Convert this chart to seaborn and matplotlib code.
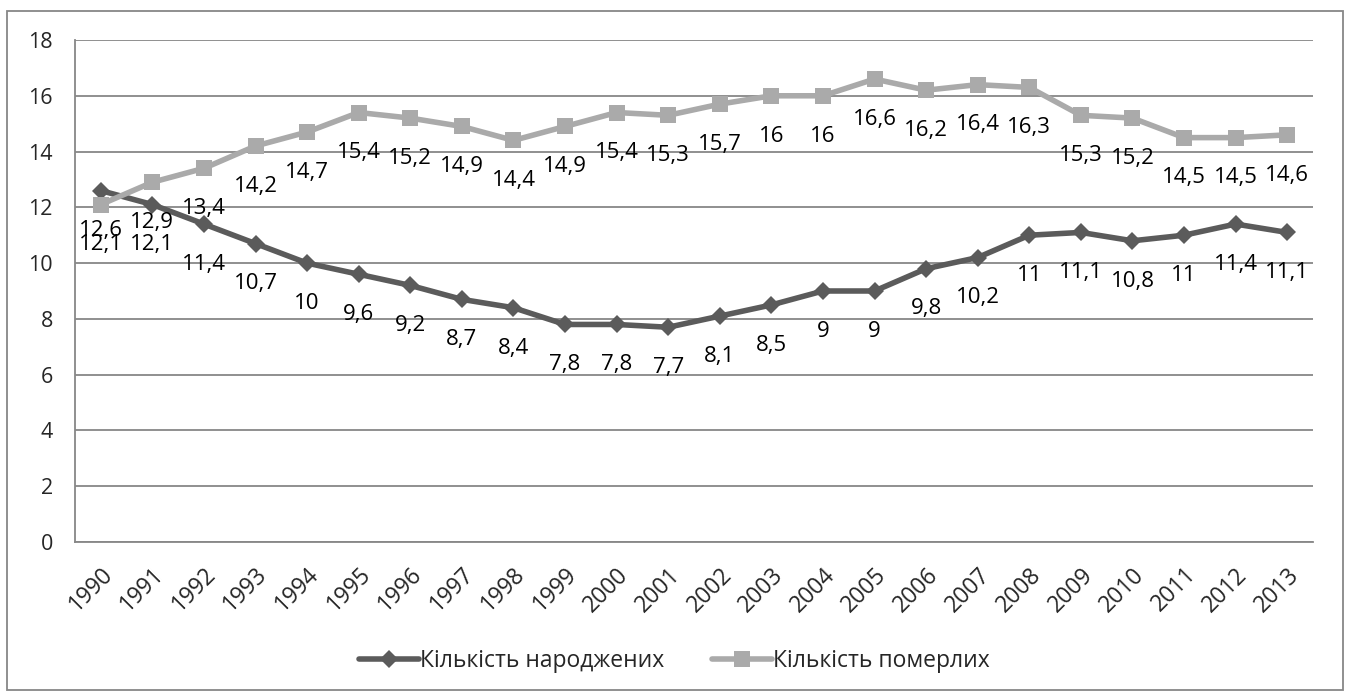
import pandas as pd
import matplotlib.pyplot as plt
import seaborn as sns
from matplotlib.patches import Rectangle

# Data
years = list(range(1990, 2014))
births = [12.6, 12.1, 11.4, 10.7, 10, 9.6, 9.2, 8.7, 8.4, 7.8, 7.8, 7.7,
          8.1, 8.5, 9, 9, 9.8, 10.2, 11, 11.1, 10.8, 11, 11.4, 11.1]
deaths = [12.1, 12.9, 13.4, 14.2, 14.7, 15.4, 15.2, 14.9, 14.4, 14.9, 15.4, 15.3,
          15.7, 16, 16, 16.6, 16.2, 16.4, 16.3, 15.3, 15.2, 14.5, 14.5, 14.6]
series_names = ['Кількість народжених', 'Кількість померлих']

df = pd.DataFrame({
    'pos': list(range(len(years))) * 2,
    'value': births + deaths,
    'series': [series_names[0]] * len(years) + [series_names[1]] * len(years),
})

sns.set_style('white')
plt.rcParams['font.family'] = ['Open Sans', 'DejaVu Sans']

fig = plt.figure(figsize=(13.49, 6.97), dpi=100)
ax = fig.add_axes([0.0556, 0.2224, 0.9733 - 0.0556, 0.9426 - 0.2224])

palette = {series_names[0]: '#5b5b5b', series_names[1]: '#aaaaaa'}
markers = {series_names[0]: 'D', series_names[1]: 's'}
sizes = {series_names[0]: 9.5, series_names[1]: 11}

for name in series_names:
    sub = df[df['series'] == name]
    sns.lineplot(data=sub, x='pos', y='value', ax=ax, color=palette[name],
                 linewidth=4, marker=markers[name], markersize=sizes[name],
                 markeredgewidth=0, label=name, zorder=3)
    # data labels below the points
    for x, v in zip(sub['pos'], sub['value']):
        ax.annotate(f'{v:g}'.replace('.', ','), (x, v), xytext=(0, -29),
                    textcoords='offset points', ha='center', va='center',
                    fontsize=16, color='black', zorder=4)

ax.set_xlim(-0.5, len(years) - 0.5)
ax.set_ylim(0, 18)
ax.set_yticks(range(0, 19, 2))
# ticks between categories, year labels at category centres
ax.set_xticks([i - 0.5 for i in range(len(years) + 1)], minor=False)
ax.set_xticklabels([])
ax.set_xticks(range(len(years)), minor=True)
ax.set_xticklabels([str(y) for y in years], minor=True, rotation=45,
                   ha='right', rotation_mode='anchor', fontsize=16.5)
ax.tick_params(axis='x', which='minor', length=0, pad=15)
ax.tick_params(axis='x', which='major', length=6, width=1.3, color='#878787', direction='out')
ax.tick_params(axis='y', length=6, width=1.3, color='#878787', direction='out',
               labelsize=15.5, pad=10)
ax.grid(axis='y', color='#878787', linewidth=1.3)
ax.grid(axis='x', visible=False)
for s in ['top', 'right']:
    ax.spines[s].set_visible(False)
for s in ['left', 'bottom']:
    ax.spines[s].set_color('#878787')
    ax.spines[s].set_linewidth(1.3)
ax.set_xlabel('')
ax.set_ylabel('')

ax.legend(loc='center', bbox_to_anchor=(0.5, 1 - 661 / 697), bbox_transform=fig.transFigure,
          ncol=2, frameon=False, fontsize=16.5, handlelength=2.6, columnspacing=2.1,
          handletextpad=0.05)

fig.patches.append(Rectangle((7 / 1349, 1 - 690 / 697), 1336 / 1349, 679 / 697,
                             transform=fig.transFigure, fill=False,
                             edgecolor='#878787', linewidth=1.3))

fig.savefig('out.png', dpi=100)
